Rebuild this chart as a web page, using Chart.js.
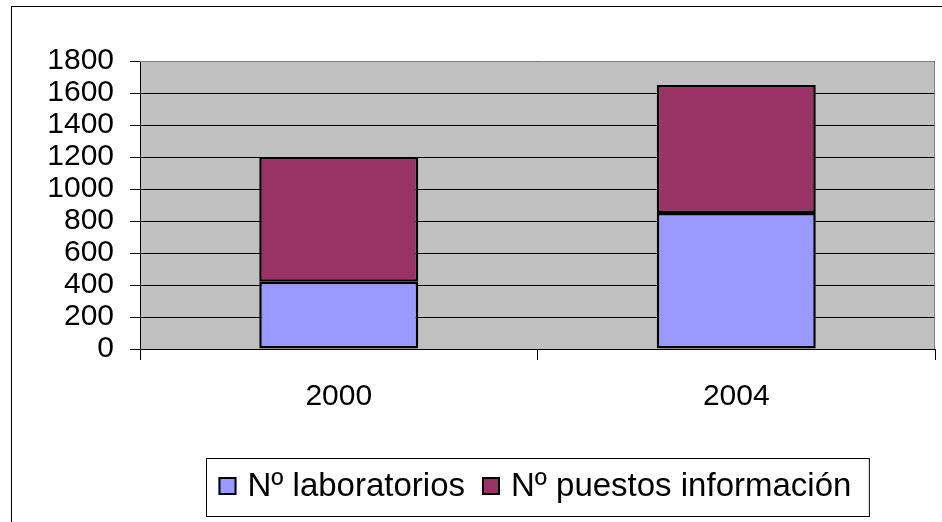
<!DOCTYPE html>
<html>
<head>
<meta charset="utf-8">
<script src="https://cdn.jsdelivr.net/npm/chart.js@4/dist/chart.umd.min.js"></script>
<style>
  html, body { margin: 0; padding: 0; background: #fff; }
  #wrap { position: relative; width: 942px; height: 522px; }
</style>
</head>
<body>
<div id="wrap"><canvas id="c" width="942" height="522"></canvas></div>
<script>
const categories = ['2000', '2004'];
const laboratorios = [420, 850];
const puestos = [780, 800];
const seriesNames = ['Nº laboratorios', 'Nº puestos información'];
const seriesColors = ['#9999FF', '#993366'];
const yTicks = { min: 0, max: 1800, step: 200 };

const FONT = '"Liberation Sans", Arial, sans-serif';

const framePlugin = {
  id: 'frame',
  beforeDraw(chart) {
    const ctx = chart.ctx;
    const a = chart.chartArea;
    ctx.save();
    ctx.fillStyle = '#fff';
    ctx.fillRect(0, 0, chart.width, chart.height);
    ctx.strokeStyle = '#000';
    ctx.lineWidth = 1;
    ctx.strokeRect(11.5, 6.5, chart.width + 20, chart.height + 20);
    ctx.fillStyle = '#C0C0C0';
    ctx.fillRect(a.left, a.top, a.right - a.left, a.bottom - a.top);
    ctx.restore();
  },
  afterDraw(chart) {
    const ctx = chart.ctx;
    const a = chart.chartArea;
    ctx.save();
    ctx.strokeStyle = '#808080';
    ctx.lineWidth = 1;
    ctx.beginPath();
    ctx.moveTo(a.left, a.top + 0.5);
    ctx.lineTo(a.right - 0.5, a.top + 0.5);
    ctx.lineTo(a.right - 0.5, a.bottom);
    ctx.stroke();

    const fs = 33;
    ctx.font = fs + 'px ' + FONT;
    const sq = 18, gapT = 11, gapItem = 17, padL = 12, padR = 18;
    const widths = seriesNames.map(n => ctx.measureText(n).width);
    let total = padL + padR;
    widths.forEach((w, i) => { total += sq + gapT + w + (i ? gapItem : 0); });
    const cx = (a.left + a.right) / 2;
    const boxL = Math.round(cx - total / 2) + 0.5;
    const boxT = 458.5, boxH = 58;
    ctx.strokeStyle = '#000';
    ctx.lineWidth = 1;
    ctx.strokeRect(boxL, boxT, total, boxH);
    let x = boxL + padL;
    const sqTop = 477, baseY = 496;
    seriesNames.forEach((n, i) => {
      if (i) x += gapItem;
      ctx.fillStyle = seriesColors[i];
      ctx.fillRect(x, sqTop, sq, sq);
      ctx.lineWidth = 2;
      ctx.strokeStyle = '#000';
      ctx.strokeRect(x + 1, sqTop + 1, sq - 2, sq - 2);
      x += sq + gapT;
      ctx.fillStyle = '#000';
      ctx.textBaseline = 'alphabetic';
      ctx.textAlign = 'left';
      ctx.fillText(n, x, baseY);
      x += widths[i];
    });
    ctx.restore();
  }
};

new Chart(document.getElementById('c'), {
  type: 'bar',
  data: {
    labels: categories,
    datasets: [
      { label: seriesNames[0], data: laboratorios, backgroundColor: seriesColors[0],
        borderColor: '#000', borderWidth: 2.5, borderSkipped: false },
      { label: seriesNames[1], data: puestos, backgroundColor: seriesColors[1],
        borderColor: '#000', borderWidth: 2.5, borderSkipped: false }
    ]
  },
  options: {
    responsive: false,
    animation: false,
    devicePixelRatio: 1,
    datasets: { bar: { barPercentage: 0.4, categoryPercentage: 1.0 } },
    layout: { padding: { top: 61, left: 12, right: 7, bottom: 93 } },
    plugins: { legend: { display: false }, tooltip: { enabled: false } },
    scales: {
      x: {
        stacked: true,
        afterFit(s) { s.height = 80; },
        grid: { display: true, drawOnChartArea: false, offset: true, color: '#000', tickLength: 11 },
        border: { display: true, color: '#000', width: 1 },
        ticks: { color: '#000', padding: 19, font: { family: FONT, size: 30 }, maxRotation: 0, autoSkip: false }
      },
      y: {
        stacked: true,
        min: yTicks.min,
        max: yTicks.max,
        afterFit(s) { s.width = 128; },
        grid: { color: '#000', tickLength: 10 },
        border: { display: true, color: '#000', width: 1 },
        ticks: { stepSize: yTicks.step, autoSkip: false, color: '#000', padding: 16,
                 font: { family: FONT, size: 30, lineHeight: 1.0 },
                 callback: v => String(v) }
      }
    }
  },
  plugins: [framePlugin]
});
</script>
</body>
</html>
